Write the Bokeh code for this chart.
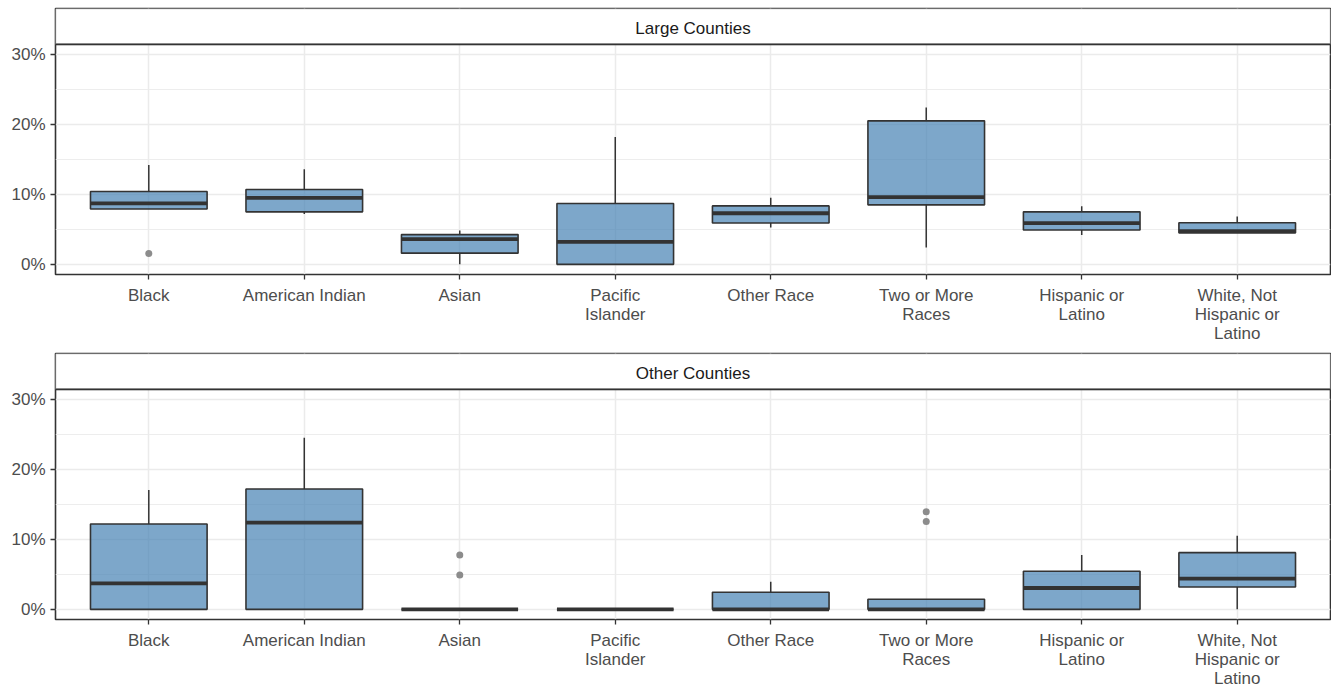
from bokeh.plotting import figure
from bokeh.models import (Range1d, FixedTicker, PrintfTickFormatter, BoxAnnotation,
                          Span, Label, ColumnDataSource)
from bokeh.layouts import column
from bokeh.embed import file_html
from bokeh.resources import INLINE

# Race / ethnicity groups (x axis)
categories = ["Black", "American Indian", "Asian", "Pacific\nIslander", "Other Race",
              "Two or More\nRaces", "Hispanic or\nLatino", "White, Not\nHispanic or\nLatino"]

# Large counties: box statistics (percent)
large_lower = [7.9, 7.2, 0.0, 0.0, 5.25, 2.4, 4.2, 4.5]
large_q1 = [7.9, 7.5, 1.6, 0.0, 5.9, 8.5, 4.9, 4.5]
large_median = [8.7, 9.5, 3.6, 3.2, 7.3, 9.6, 5.9, 4.75]
large_q3 = [10.4, 10.7, 4.25, 8.7, 8.35, 20.5, 7.5, 5.95]
large_upper = [14.2, 13.6, 4.85, 18.2, 9.5, 22.4, 8.3, 6.85]
large_outlier_group = ["Black"]
large_outlier_value = [1.55]

# Other counties: box statistics (percent)
other_lower = [0.0, 0.0, 0.0, 0.0, 0.0, 0.0, 0.0, 0.0]
other_q1 = [0.0, 0.0, 0.0, 0.0, 0.0, 0.0, 0.0, 3.2]
other_median = [3.7, 12.4, 0.0, 0.0, 0.0, 0.0, 3.05, 4.4]
other_q3 = [12.2, 17.2, 0.0, 0.0, 2.45, 1.45, 5.45, 8.1]
other_upper = [17.05, 24.5, 0.0, 0.0, 3.95, 1.45, 7.75, 10.5]
other_outlier_group = ["Asian", "Asian", "Two or More\nRaces", "Two or More\nRaces"]
other_outlier_value = [7.75, 4.9, 13.95, 12.55]

y_ticks = [0, 10, 20, 30]
y_minor = [5, 15, 25]

FONT = "Liberation Sans"
BORDER = "#333333"
STRIP_BORDER = "#8F8F8F"
GRID = "#EBEBEB"
STRIP_LINE = 31.43
Y_LO, Y_HI = -1.45, 36.55
X_LO, X_HI = 0.4, len(categories) + 0.6


def panel(title, lower, q1, median, q3, upper, out_group, out_value, bottom_border):
    xs = list(range(1, len(categories) + 1))
    p = figure(frame_width=1275, frame_height=266, output_backend="svg", toolbar_location=None,
               x_range=Range1d(X_LO, X_HI), y_range=Range1d(Y_LO, Y_HI),
               min_border_left=55, min_border_right=1, min_border_top=8,
               min_border_bottom=bottom_border)
    p.outline_line_color = BORDER
    p.outline_line_width = 1.6
    p.background_fill_color = "white"
    p.border_fill_color = "white"

    # axes
    p.xaxis.ticker = FixedTicker(ticks=xs)
    p.xaxis.major_label_overrides = {i + 1: c for i, c in enumerate(categories)}
    p.yaxis.ticker = FixedTicker(ticks=y_ticks, minor_ticks=y_minor)
    p.yaxis.formatter = PrintfTickFormatter(format="%d%%")
    for ax in (p.xaxis, p.yaxis):
        ax.axis_line_color = None
        ax.major_tick_line_color = BORDER
        ax.major_tick_line_width = 1.3
        ax.major_tick_in = 0
        ax.major_tick_out = 5
        ax.minor_tick_line_color = None
        ax.major_label_text_font = FONT
        ax.major_label_text_font_size = "17px"
        ax.major_label_text_color = "#4D4D4D"
        ax.major_label_standoff = 5
    p.xaxis.major_label_text_line_height = 1.0
    p.xaxis.major_label_standoff = 6

    # grid
    p.xgrid.ticker = FixedTicker(ticks=xs)
    p.xgrid.grid_line_color = GRID
    p.xgrid.grid_line_width = 1.5
    p.ygrid.grid_line_color = GRID
    p.ygrid.grid_line_width = 1.5
    p.ygrid.minor_grid_line_color = GRID
    p.ygrid.minor_grid_line_width = 0.9

    src = ColumnDataSource(dict(x=xs, lower=lower, q1=q1, median=median, q3=q3, upper=upper))
    # whiskers
    p.segment(x0="x", y0="q3", x1="x", y1="upper", source=src, line_color=BORDER, line_width=1.5)
    p.segment(x0="x", y0="lower", x1="x", y1="q1", source=src, line_color=BORDER, line_width=1.5)
    # boxes
    p.vbar(x="x", width=0.75, bottom="q1", top="q3", source=src,
           fill_color="steelblue", fill_alpha=0.7, line_color=BORDER, line_width=1.6)
    # medians
    msrc = ColumnDataSource(dict(x0=[x - 0.375 for x in xs], x1=[x + 0.375 for x in xs], y=median))
    p.segment(x0="x0", y0="y", x1="x1", y1="y", source=msrc, line_color=BORDER, line_width=3.8)
    # outliers
    osrc = ColumnDataSource(dict(x=[categories.index(g) + 1 for g in out_group], y=out_value))
    p.scatter(x="x", y="y", source=osrc, size=7, fill_color="#8C8C8C", line_color=None)

    # facet strip
    p.add_layout(BoxAnnotation(left=X_LO, right=X_HI, bottom=STRIP_LINE, top=Y_HI,
                               fill_color="white", fill_alpha=1.0,
                               line_color=STRIP_BORDER, line_width=2.0, level="annotation"))
    p.add_layout(Span(location=STRIP_LINE, dimension="width", line_color=BORDER, line_width=1.6))
    p.add_layout(Label(x=(len(categories) + 1) / 2, y=(STRIP_LINE + Y_HI) / 2 - 0.3, text=title,
                       text_align="center", text_baseline="middle", text_font=FONT,
                       text_font_size="17px", text_color="#1A1A1A"))
    return p


top = panel("Large Counties", large_lower, large_q1, large_median, large_q3, large_upper,
            large_outlier_group, large_outlier_value, 71)
bottom = panel("Other Counties", other_lower, other_q1, other_median, other_q3, other_upper,
               other_outlier_group, other_outlier_value, 68)

layout = column(top, bottom, spacing=0)
open("out.html", "w").write(file_html(layout, INLINE))
